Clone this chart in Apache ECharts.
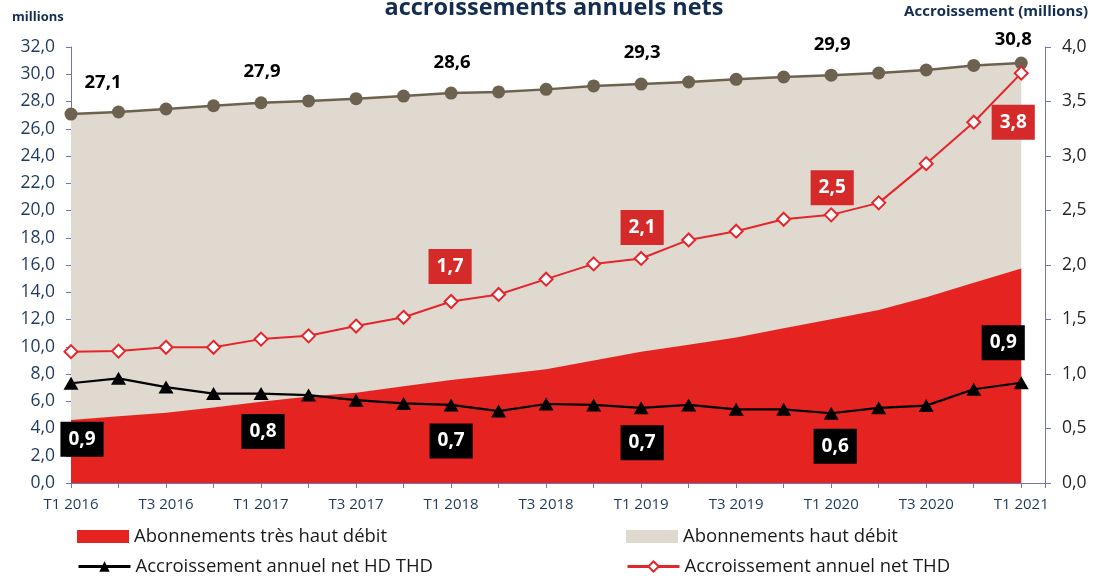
<!DOCTYPE html>
<html><head><meta charset="utf-8">
<script src="https://cdn.jsdelivr.net/npm/echarts@6/dist/echarts.min.js"></script>
<style>html,body{margin:0;padding:0;background:#fff}#c{width:1094px;height:579px}</style>
</head><body><div id="c"></div>
<script>
// ---- data ----
const quarters = ['T1 2016','T2 2016','T3 2016','T4 2016','T1 2017','T2 2017','T3 2017','T4 2017',
  'T1 2018','T2 2018','T3 2018','T4 2018','T1 2019','T2 2019','T3 2019','T4 2019',
  'T1 2020','T2 2020','T3 2020','T4 2020','T1 2021'];
// total subscriptions HD + THD (millions, left axis)
const totalSubs = [27.08, 27.23, 27.45, 27.69, 27.91, 28.04, 28.21, 28.40, 28.62, 28.70, 28.89,
  29.14, 29.28, 29.43, 29.63, 29.80, 29.93, 30.09, 30.31, 30.65, 30.82];
// très haut débit subscriptions (millions, left axis)
const thdSubs = [4.62, 4.90, 5.16, 5.55, 5.97, 6.34, 6.63, 7.10, 7.56, 7.95, 8.34,
  9.00, 9.64, 10.15, 10.67, 11.35, 12.01, 12.70, 13.63, 14.70, 15.75];
// annual net growth HD THD (millions, right axis)
const netHdThd = [0.915, 0.96, 0.88, 0.82, 0.82, 0.807, 0.76, 0.73, 0.716, 0.66, 0.725,
  0.716, 0.69, 0.716, 0.676, 0.676, 0.64, 0.69, 0.71, 0.86, 0.92];
// annual net growth THD (millions, right axis)
const netThd = [1.205, 1.21, 1.245, 1.245, 1.32, 1.35, 1.44, 1.52, 1.665, 1.73, 1.87,
  2.01, 2.06, 2.23, 2.31, 2.42, 2.46, 2.57, 2.93, 3.31, 3.76];

// ---- presentation ----
const FONT = 'Open Sans';
const NAVY = '#1f3a5e';
const AXIS = '#7474b0';
const RED = '#e52421';
const BEIGE = '#e0d9cf';
const BROWN = '#6d6250';
const fmt = v => v.toFixed(1).replace('.', ',');

const brownLbl = {0:[32,-31], 4:[1,-31], 8:[1,-30], 12:[1,-31], 16:[1,-30], 20:[-8,-23]};
const redLbl = {8:[-1,-35], 12:[1,-31], 16:[1,-27], 20:[-8,49]};
const blackLbl = {0:[11,56], 4:[2,38], 8:[0,36], 12:[1,35], 16:[4,33], 20:[-18,-40]};

function pts(values, labels, style) {
  return values.map((v, i) => {
    const item = { value: [i, v] };
    if (labels && labels[i]) {
      item.label = Object.assign({ show: true, position: 'inside', offset: labels[i], formatter: fmt(v) }, style);
    }
    return item;
  });
}
const brownStyle = { color: '#000', fontFamily: FONT, fontWeight: 'bold', fontSize: 18.5 };
const boxStyle = bg => ({ color: '#fff', backgroundColor: bg, fontFamily: FONT, fontWeight: 'bold',
  fontSize: 19, lineHeight: 21, padding: [7, 8, 7, 8] });
const legText = { fontFamily: FONT, fontSize: 18.5, color: '#1a1a1a' };

const chart = echarts.init(document.getElementById('c'), null, { renderer: 'canvas' });
chart.setOption({
  animation: false,
  backgroundColor: '#fff',
  grid: { left: 71, right: 49, top: 47, bottom: 96, containLabel: false },
  graphic: [
    { type: 'text', x: 554, y: 20, style: { text: 'accroissements annuels nets', align: 'center', verticalAlign: 'bottom',
      fill: '#132d50', font: 'bold 23.5px "Open Sans"' } },
    { type: 'text', x: 12, y: 17, style: { text: 'millions', align: 'left', verticalAlign: 'middle',
      fill: '#132d50', font: 'bold 13px "Open Sans"' } },
    { type: 'text', x: 1088, y: 12, style: { text: 'Accroissement (millions)', align: 'right', verticalAlign: 'middle',
      fill: '#132d50', font: 'bold 15px "Open Sans"' } }
  ],
  legend: [
    { left: 72, top: 522, itemWidth: 52, itemHeight: 13, itemGap: 5, selectedMode: false, textStyle: legText,
      data: [{ name: 'Abonnements très haut débit', icon: 'rect', itemStyle: { color: RED } }] },
    { left: 621, top: 522, itemWidth: 52, itemHeight: 13, selectedMode: false, textStyle: legText,
      data: [{ name: 'Abonnements haut débit', icon: 'rect', itemStyle: { color: BEIGE, borderWidth: 0 } }] },
    { left: 72, top: 552, itemWidth: 52, itemHeight: 13, selectedMode: false, textStyle: legText,
      lineStyle: { width: 3 },
      data: ['Accroissement annuel net HD THD'] },
    { left: 621, top: 552, itemWidth: 52, itemHeight: 13, selectedMode: false, textStyle: legText,
      lineStyle: { width: 3 },
      data: ['Accroissement annuel net THD'] }
  ],
  xAxis: {
    type: 'value', min: 0, max: 20.5, interval: 1,
    axisLine: { show: true, onZero: false, lineStyle: { color: AXIS, width: 1 } },
    axisTick: { show: true, length: 5, lineStyle: { color: AXIS } },
    splitLine: { show: false },
    axisLabel: {
      margin: 14, color: NAVY, fontFamily: FONT, fontSize: 15,
      formatter: v => (Number.isInteger(v) && v % 2 === 0 && quarters[v]) ? quarters[v] : ''
    }
  },
  yAxis: [
    { type: 'value', min: 0, max: 32, interval: 2, position: 'left',
      axisLine: { show: true, lineStyle: { color: AXIS } },
      axisTick: { show: true, length: 5, lineStyle: { color: AXIS } },
      splitLine: { show: false },
      axisLabel: { margin: 16, color: NAVY, fontFamily: FONT, fontSize: 17.5, formatter: fmt } },
    { type: 'value', min: 0, max: 4, interval: 0.5, position: 'right',
      axisLine: { show: true, lineStyle: { color: AXIS } },
      axisTick: { show: true, length: 6, lineStyle: { color: AXIS } },
      splitLine: { show: false },
      axisLabel: { margin: 17, color: '#262626', fontFamily: FONT, fontSize: 17.5, formatter: fmt } }
  ],
  series: [
    { name: 'Abonnements haut débit', type: 'line', yAxisIndex: 0, z: 2,
      data: pts(totalSubs, brownLbl, brownStyle),
      symbol: 'circle', symbolSize: 13, showAllSymbol: true,
      itemStyle: { color: BROWN }, lineStyle: { color: BROWN, width: 2.5 },
      areaStyle: { color: BEIGE, opacity: 1 } },
    { name: 'Abonnements très haut débit', type: 'line', yAxisIndex: 0, z: 3,
      data: pts(thdSubs, null), symbol: 'none',
      itemStyle: { color: RED }, lineStyle: { width: 0, color: RED },
      areaStyle: { color: RED, opacity: 1 } },
    { name: 'Accroissement annuel net THD', type: 'line', yAxisIndex: 1, z: 4,
      data: pts(netThd, redLbl, boxStyle('#d42a2a')),
      symbol: 'diamond', symbolSize: 13, showAllSymbol: true,
      itemStyle: { color: '#fff', borderColor: '#e3262b', borderWidth: 2 },
      lineStyle: { color: '#e3262b', width: 2 } },
    { name: 'Accroissement annuel net HD THD', type: 'line', yAxisIndex: 1, z: 5,
      data: pts(netHdThd, blackLbl, boxStyle('#000')),
      symbol: 'triangle', symbolSize: [15, 13], showAllSymbol: true,
      itemStyle: { color: '#000' }, lineStyle: { color: '#000', width: 2.2 } }
  ]
});
</script></body></html>
